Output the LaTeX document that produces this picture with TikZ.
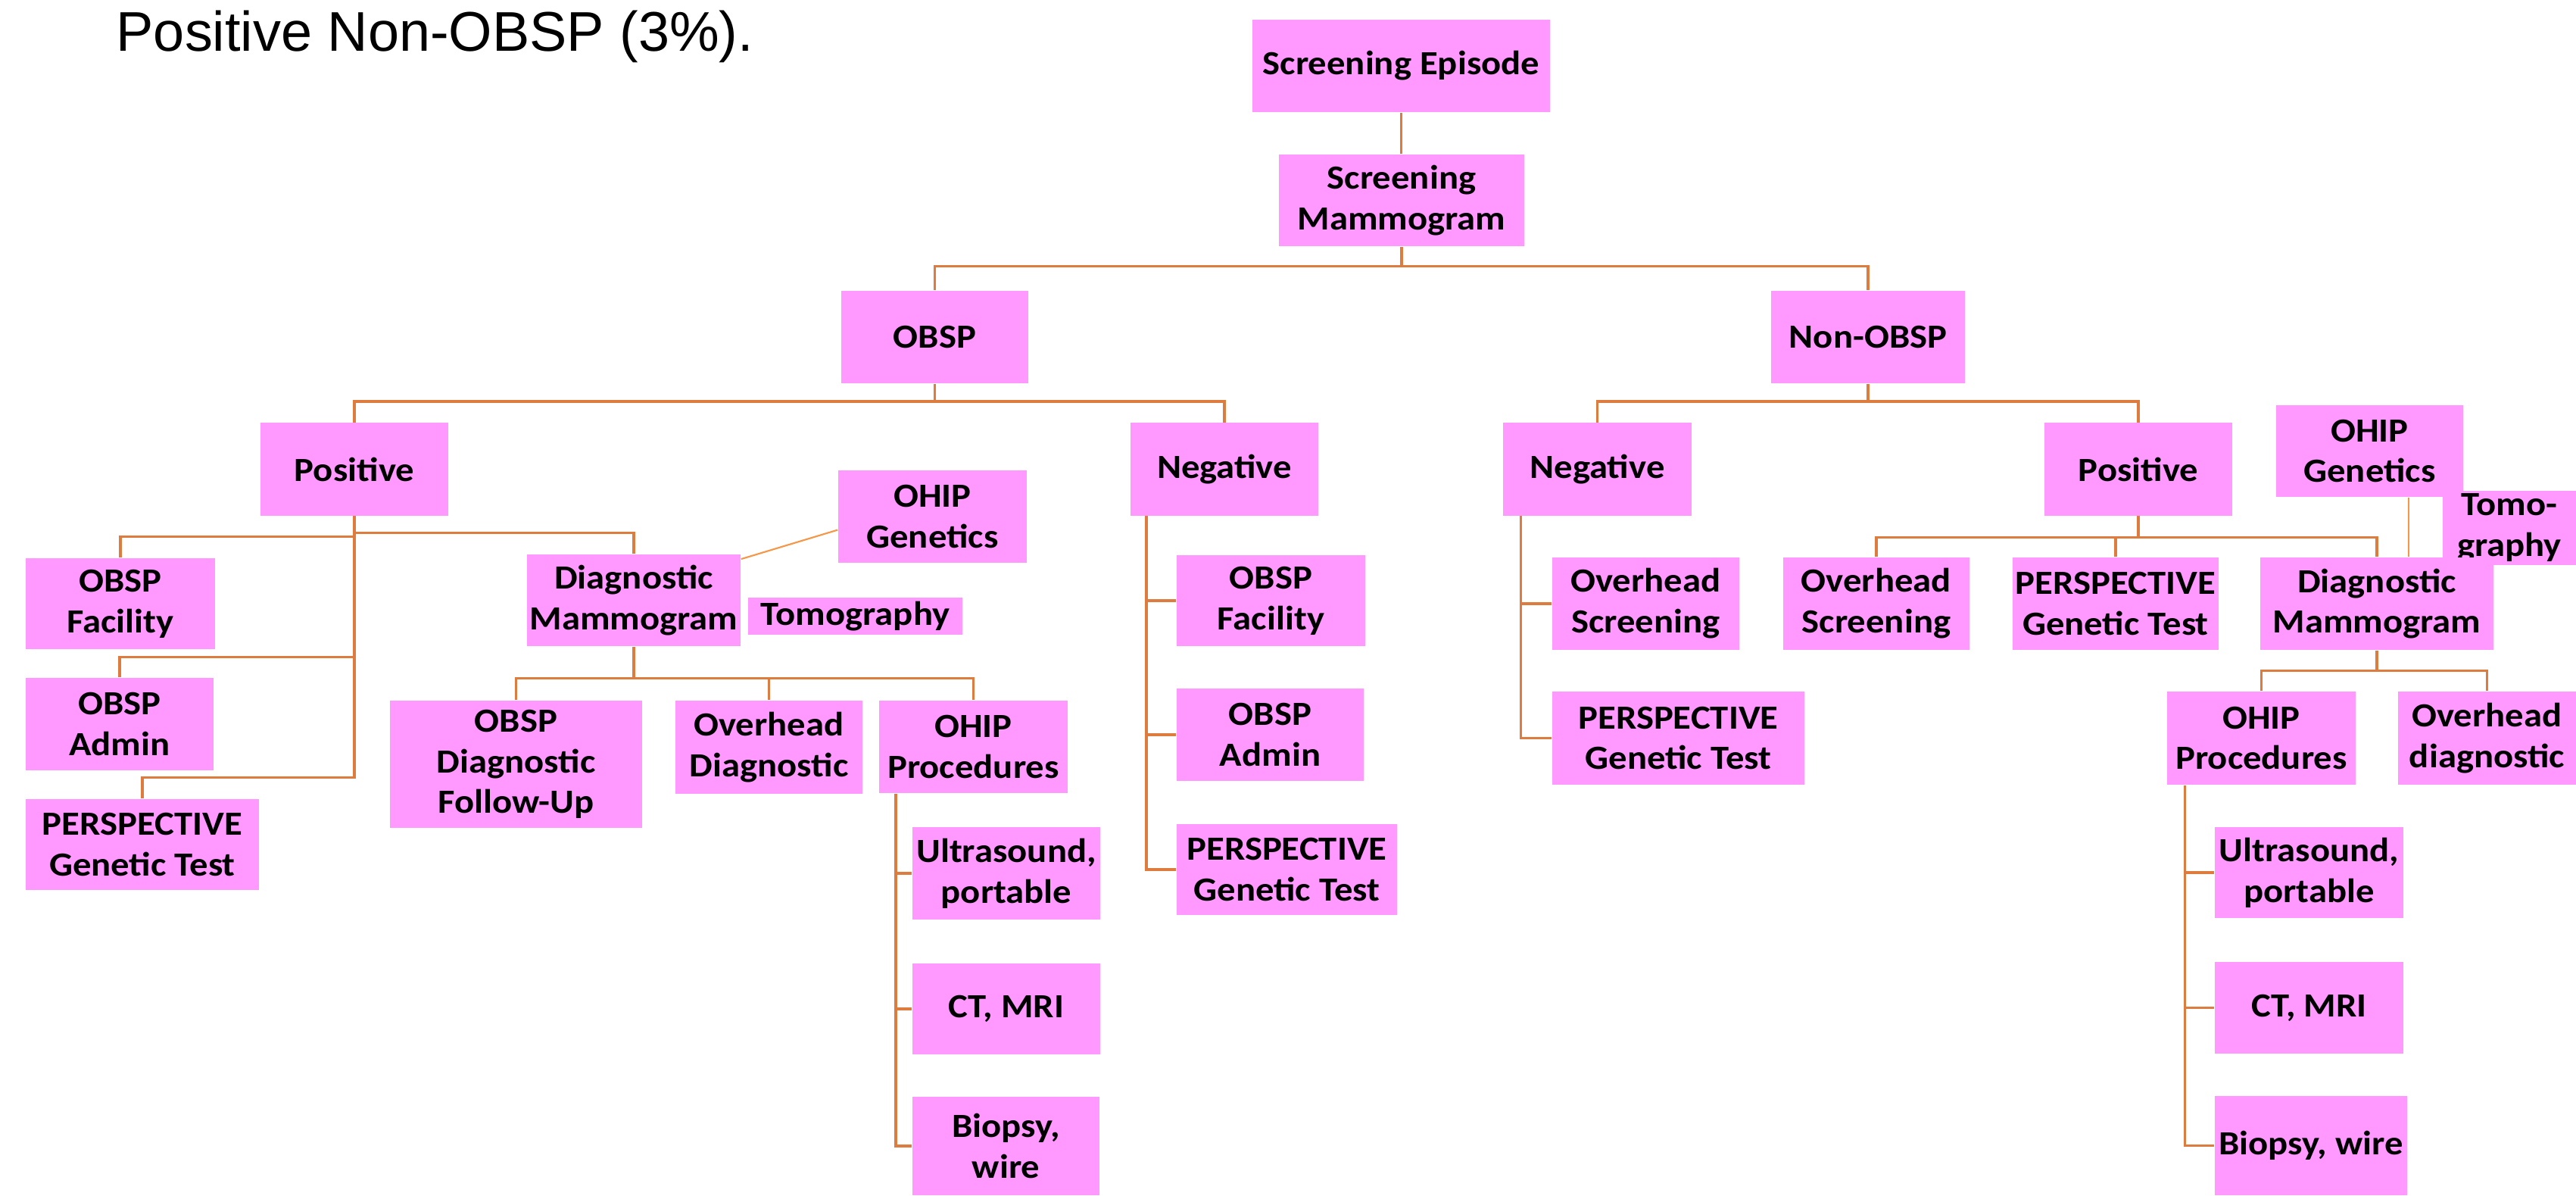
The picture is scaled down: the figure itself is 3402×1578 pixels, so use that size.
\documentclass[tikz,border=0pt]{standalone}
\usepackage{fontspec}
\newfontfamily\boxfont{Carlito}[FakeStretch=1.09]
\newfontfamily\titlefont{Liberation Sans}
\definecolor{boxpink}{HTML}{FF99FF}
\definecolor{linkorange}{HTML}{DD7C3E}
\definecolor{thinorange}{HTML}{F79646}
\tikzset{
  box/.style={rectangle,fill=boxpink,inner sep=1pt,align=center,
    font=\boxfont\bfseries\fontsize{12.7}{15.3}\selectfont,
    minimum width=2.48cm,minimum height=1.22cm},
  link/.style={draw=linkorange,line width=1pt},
  thin link/.style={draw=thinorange,line width=0.6pt}
}

\begin{document}
\begin{tikzpicture}[x=0.01cm,y=-0.01cm]
\useasboundingbox (0,0) rectangle (3402,1578);

% Caption
\node[anchor=base west,inner sep=0,font=\titlefont\fontsize{21}{25}\selectfont] (caption) at (153,67) {Positive Non-OBSP (3\%).};

% Top of the tree
\node[box,minimum width=3.93cm] (episode) at (1850.5,87) {Screening Episode};
\node[box,minimum width=3.24cm,minimum height=1.21cm] (scrmam) at (1851,264.5) {Screening\\Mammogram};
\node[box,minimum width=2.47cm] (obsp) at (1234.5,445) {OBSP};
\node[box,minimum width=2.56cm] (nonobsp) at (2467,445) {Non-OBSP};
\node[box] (obsppos) at (468,619.5) {Positive};
\node[box] (obspneg) at (1617,619.5) {Negative};
\node[box,minimum width=2.49cm] (nonneg) at (2109.5,619.5) {Negative};
\node[box] (nonpos) at (2824,619.5) {Positive};

% OBSP positive
\node[box,minimum width=2.50cm,minimum height=1.20cm] (pfac) at (159,797) {OBSP\\Facility};
\node[box] (padm) at (158,956) {OBSP\\Admin};
\node[box,minimum width=3.08cm,minimum height=1.20cm] (pper) at (188,1115) {PERSPECTIVE\\Genetic Test};
\node[box,minimum width=2.82cm,minimum height=1.21cm] (pdiag) at (837,792.5) {Diagnostic\\Mammogram};
\node[box,minimum width=2.49cm] (pgen) at (1231.5,682) {OHIP\\Genetics};
\node[box,minimum width=2.83cm,minimum height=0.49cm] (ptomo) at (1129.5,813.5) {Tomography};
\node[box,minimum width=3.33cm,minimum height=1.68cm] (pfollow) at (681.5,1009) {OBSP\\Diagnostic\\Follow-Up};
\node[box,minimum width=2.47cm,minimum height=1.23cm] (poverhead) at (1015.5,986.5) {Overhead\\Diagnostic};
\node[box,minimum width=2.49cm] (pproc) at (1285.5,986) {OHIP\\Procedures};
\node[box] (pus) at (1329,1153) {Ultrasound,\\portable};
\node[box,minimum height=1.20cm] (pct) at (1329,1332) {CT, MRI};
\node[box,minimum width=2.47cm,minimum height=1.30cm] (pbio) at (1328.5,1513) {Biopsy,\\wire};

% OBSP negative
\node[box,minimum width=2.49cm,minimum height=1.20cm] (nfac) at (1678.5,793) {OBSP\\Facility};
\node[box,minimum width=2.47cm] (nadm) at (1677.5,970) {OBSP\\Admin};
\node[box,minimum width=2.91cm,minimum height=1.20cm] (nper) at (1699.5,1148) {PERSPECTIVE\\Genetic Test};

% Non-OBSP negative
\node[box,minimum width=2.47cm] (qscreen) at (2173.5,797) {Overhead\\Screening};
\node[box,minimum width=3.33cm,minimum height=1.23cm] (qper) at (2216.5,974.5) {PERSPECTIVE\\Genetic Test};

% Non-OBSP positive
\node[box,minimum width=2.47cm,minimum height=1.21cm] (rgen) at (3129.5,595.5) {OHIP\\Genetics};
\node[box,minimum width=1.76cm,minimum height=0.98cm] (rtomo) at (3314,697) {Tomo-\\graphy};
\node[box,minimum width=2.46cm] (rscreen) at (2478,797) {Overhead\\Screening};
\node[box,minimum width=2.68cm] (rper) at (2794,797) {PERSPECTIVE\\Genetic Test};
\node[box,minimum width=3.08cm] (rdiag) at (3139,797) {Diagnostic\\Mammogram};
\node[box,minimum width=2.49cm,minimum height=1.23cm] (rproc) at (2986.5,974.5) {OHIP\\Procedures};
\node[box,minimum width=2.35cm,minimum height=1.23cm] (roverhead) at (3284.5,974.5) {Overhead\\diagnostic};
\node[box,minimum width=2.49cm,minimum height=1.20cm] (rus) at (3049.5,1152) {Ultrasound,\\portable};
\node[box,minimum width=2.49cm,minimum height=1.21cm] (rct) at (3049.5,1330.5) {CT, MRI};
\node[box,minimum width=2.54cm,minimum height=1.31cm] (rbio) at (3052,1512.5) {Biopsy, wire};

% Connectors
\draw[link] (episode.south) -- (episode.south |- scrmam.north);
\draw[link] (scrmam.south) -- ++(0,27);
\draw[link] (obsp.north) -- ++(0,-32) -| (nonobsp.north);
\draw[link] (obsp.south) -- ++(0,24);
\draw[link] (obsppos.north) -- ++(0,-28) -| (obspneg.north);
\draw[link] (nonobsp.south) -- ++(0,24);
\draw[link] (nonneg.north) -- ++(0,-28) -| (nonpos.north);

\draw[link] (pfac.north) -- ++(0,-28) -| (obsppos.south);
\draw[link] (pdiag.north) -- ++(0,-28) -| (obsppos.south);
\draw[link] (padm.north) -- ++(0,-27) -| (obsppos.south);
\draw[link] (pper.north) -- ++(0,-28) -| (obsppos.south);
\draw[link] (pdiag.south) -- ++(0,43);
\draw[link] (pfollow.north) -- ++(0,-29) -| (pproc.north);
\draw[link] (poverhead.north) -- ++(0,-29);
\draw[link] ([xshift=0.23cm]pproc.south west) |- (pus.west);
\draw[link] ([xshift=0.23cm]pproc.south west) |- (pct.west);
\draw[link] ([xshift=0.23cm]pproc.south west) |- (pbio.west);

\draw[link] ([xshift=0.22cm]obspneg.south west) |- (nfac.west);
\draw[link] ([xshift=0.22cm]obspneg.south west) |- (nadm.west);
\draw[link] ([xshift=0.22cm]obspneg.south west) |- (nper.west);

\draw[link] ([xshift=0.24cm]nonneg.south west) |- (qscreen.west);
\draw[link] ([xshift=0.24cm]nonneg.south west) |- (qper.west);

\draw[link] (nonpos.south) -- ++(0,29);
\draw[link] (rscreen.north) -- ++(0,-26) -| (rdiag.north);
\draw[link] (rper.north) -- ++(0,-26);
\draw[link] (rdiag.south) -- ++(0,28);
\draw[link] (rproc.north) -- ++(0,-27) -| (roverhead.north);
\draw[link] ([xshift=0.24cm]rproc.south west) |- (rus.west);
\draw[link] ([xshift=0.24cm]rproc.south west) |- (rct.west);
\draw[link] ([xshift=0.24cm]rproc.south west) |- (rbio.west);

% Genetics links
\draw[thin link] (pgen.188) -- (pdiag.21);
\draw[thin link] (rgen.-50) -- (rgen.-50 |- rdiag.north);
\end{tikzpicture}
\end{document}
